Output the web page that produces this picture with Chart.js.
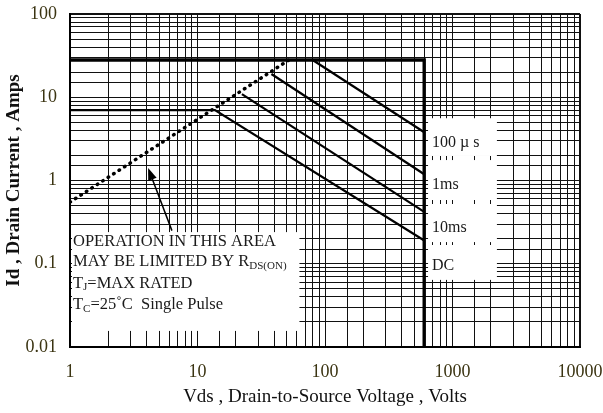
<!DOCTYPE html>
<html>
<head>
<meta charset="utf-8">
<script src="https://cdn.jsdelivr.net/npm/chart.js@4"></script>
<style>
  html, body { margin: 0; padding: 0; background: #fff; }
  #wrap { width: 603px; height: 413px; }
</style>
</head>
<body>
<div id="wrap"><canvas id="myChart" width="603" height="413"></canvas></div>
<script>
// values (Vds in volts, Id in amps)
const limitV = [1, 600, 600];
const limitI = [28, 28, 0.01];
const rdsV = [1, 52];
const rdsI = [0.55, 28];
const us100V = [80, 600];
const us100I = [28, 3.8];
const ms1V = [38, 600];
const ms1I = [19, 1.19];
const ms10V = [22.3, 600];
const ms10I = [10.9, 0.42];
const dcV = [1, 13.7, 600];
const dcI = [7, 7, 0.19];

const xMin = 1, xMax = 10000;
const yMin = 0.01, yMax = 100;

const curveLabels = ['100 \u00b5 s', '1ms', '10ms', 'DC'];
const curveLabelI = [2.8, 0.9, 0.27, 0.094];
const curveLabelV = 690;

const noteLines = ['OPERATION IN THIS AREA', 'MAY BE LIMITED BY R', 'T', 'T'];
const noteRowI = [0.182, 0.105, 0.058, 0.032];

const serif = "'Liberation Serif', 'Times New Roman', serif";

function pts(xs, ys) {
    return xs.map((x, i) => ({ x: x, y: ys[i] }));
}

function isDecade(v) {
    const l = Math.log10(v);
    return Math.abs(l - Math.round(l)) < 1e-6;
}

function line(data, width, dash) {
    return {
        data: data,
        borderColor: '#000',
        borderWidth: width,
        borderDash: dash || [],
        borderCapStyle: dash ? 'round' : 'butt',
        pointRadius: 0,
        fill: false,
        tension: 0
    };
}

// white boxes behind the notes, and the texts/arrow on top
const notesPlugin = {
    id: 'notes',
    beforeDatasetsDraw(chart) {
        const ctx = chart.ctx;
        const xs = chart.scales.x, ys = chart.scales.y;
        const ca = chart.chartArea;
        ctx.save();
        ctx.fillStyle = '#fff';
        // left note box
        ctx.fillRect(ca.left + 2, ys.getPixelForValue(0.24), xs.getPixelForValue(63) - ca.left - 2, ys.getPixelForValue(0.0156) - ys.getPixelForValue(0.24));
        // right label boxes
        const bx0 = xs.getPixelForValue(643), bx1 = xs.getPixelForValue(2230);
        [[5.6, 1.97], [1.76, 0.583], [0.522, 0.182], [0.168, 0.064]].forEach(b => {
            const t = ys.getPixelForValue(b[0]), btm = ys.getPixelForValue(b[1]);
            ctx.fillRect(bx0, t, bx1 - bx0, btm - t);
        });
        ctx.restore();
    },
    afterDatasetsDraw(chart) {
        const ctx = chart.ctx;
        const xs = chart.scales.x, ys = chart.scales.y;
        const ca = chart.chartArea;
        ctx.save();
        ctx.fillStyle = '#1a1a1a';
        ctx.textBaseline = 'middle';
        ctx.textAlign = 'left';
        ctx.font = '16px ' + serif;
        const lx = xs.getPixelForValue(curveLabelV);
        curveLabels.forEach((t, i) => {
            ctx.fillText(t, lx, ys.getPixelForValue(curveLabelI[i]));
        });

        // note text with subscripts
        const nx = ca.left + 3;
        const rows = noteRowI.map(v => ys.getPixelForValue(v));
        const big = '16.5px ' + serif, small = '11px ' + serif;
        function sub(main, s, rest, y) {
            ctx.font = big;
            ctx.fillText(main, nx, y);
            let w = ctx.measureText(main).width;
            ctx.font = small;
            ctx.fillText(s, nx + w, y + 4);
            w += ctx.measureText(s).width;
            if (rest) {
                ctx.font = big;
                ctx.fillText(rest, nx + w, y);
            }
        }
        ctx.font = big;
        ctx.fillText(noteLines[0], nx, rows[0]);
        sub(noteLines[1], 'DS(ON)', '', rows[1]);
        sub(noteLines[2], 'J', '=MAX RATED', rows[2]);
        sub(noteLines[3], 'C', '=25\u02daC  Single Pulse', rows[3]);

        // arrow pointing at the Rds(on) line
        const tipX = xs.getPixelForValue(4.1), tipY = ys.getPixelForValue(1.41);
        const tailX = xs.getPixelForValue(6.3), tailY = ys.getPixelForValue(0.25);
        const ang = Math.atan2(tipY - tailY, tipX - tailX);
        ctx.strokeStyle = '#000';
        ctx.lineWidth = 1.5;
        ctx.beginPath();
        ctx.moveTo(tailX, tailY);
        ctx.lineTo(tipX - 8 * Math.cos(ang), tipY - 8 * Math.sin(ang));
        ctx.stroke();
        ctx.fillStyle = '#000';
        ctx.beginPath();
        ctx.moveTo(tipX, tipY);
        ctx.lineTo(tipX - 12 * Math.cos(ang) + 4.5 * Math.sin(ang), tipY - 12 * Math.sin(ang) - 4.5 * Math.cos(ang));
        ctx.lineTo(tipX - 12 * Math.cos(ang) - 4.5 * Math.sin(ang), tipY - 12 * Math.sin(ang) + 4.5 * Math.cos(ang));
        ctx.closePath();
        ctx.fill();
        ctx.restore();
    }
};

function gridWidth(c) {
    const v = c.tick && c.tick.value;
    if (v === undefined) return 1;
    return (Math.abs(v - c.scale.max) / c.scale.max < 1e-6) ? 2 : 1;
}

const ctx = document.getElementById('myChart').getContext('2d');
const myChart = new Chart(ctx, {
    type: 'line',
    data: {
        datasets: [
            line(pts(limitV, limitI), 3.4),
            line(pts(dcV, dcI), 2.2),
            line(pts(ms10V, ms10I), 2.2),
            line(pts(ms1V, ms1I), 2.2),
            line(pts(us100V, us100I), 2.2),
            line(pts(rdsV, rdsI), 3.5, [0.5, 6])
        ]
    },
    options: {
        responsive: false,
        animation: false,
        events: [],
        layout: { autoPadding: false, padding: { top: 14, right: 23, left: 0, bottom: 0 } },
        plugins: {
            legend: { display: false },
            tooltip: { enabled: false }
        },
        scales: {
            x: {
                type: 'logarithmic',
                min: xMin,
                max: xMax,
                afterFit: s => { s.height = 66; s.paddingLeft = 0; s.paddingRight = 0; },
                grid: { color: '#111', lineWidth: gridWidth, drawTicks: false },
                border: { color: '#000', width: 2 },
                ticks: {
                    autoSkip: false,
                    maxRotation: 0,
                    padding: 14,
                    color: '#3b3412',
                    font: { family: serif, size: 18 },
                    callback: v => isDecade(v) ? String(Number(v.toPrecision(3))) : ''
                },
                title: {
                    display: true,
                    text: 'Vds , Drain-to-Source Voltage , Volts',
                    color: '#111',
                    font: { family: serif, size: 19 },
                    padding: { top: 0, bottom: 5 }
                }
            },
            y: {
                type: 'logarithmic',
                min: yMin,
                max: yMax,
                afterFit: s => { s.width = 70; s.paddingTop = 0; s.paddingBottom = 0; },
                grid: { color: '#111', lineWidth: gridWidth, drawTicks: false },
                border: { color: '#000', width: 2 },
                ticks: {
                    autoSkip: false,
                    padding: 13,
                    color: '#3b3412',
                    font: { family: serif, size: 18 },
                    callback: v => isDecade(v) ? String(Number(v.toPrecision(3))) : ''
                },
                title: {
                    display: true,
                    text: 'Id , Drain Current , Amps',
                    color: '#111',
                    font: { family: serif, size: 19, weight: 'bold' },
                    padding: { top: 3, bottom: 0 }
                }
            }
        }
    },
    plugins: [notesPlugin]
});
</script>
</body>
</html>
